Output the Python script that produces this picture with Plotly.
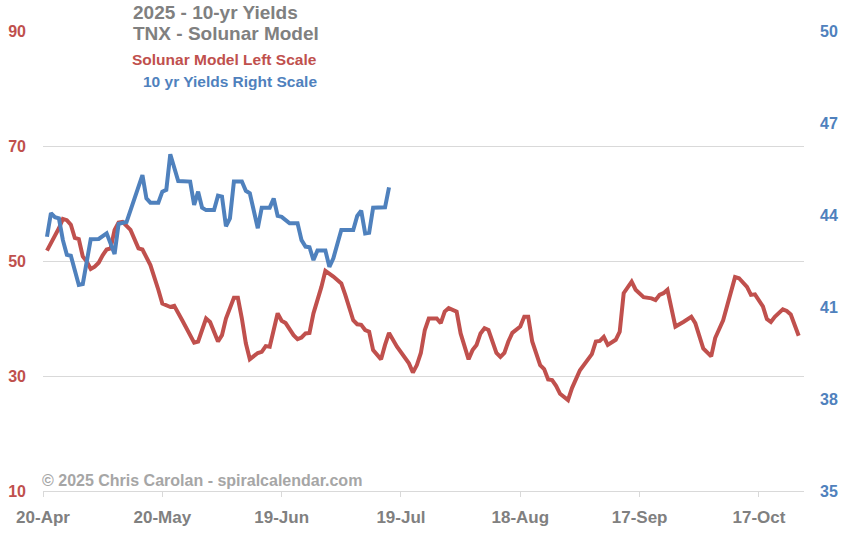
import datetime as dt
import plotly.graph_objects as go

START = dt.date(2025, 4, 20)

# Solunar model (left scale): day offset from 20-Apr, value
red_days = [1, 2, 3, 4, 5, 6, 7, 8, 9, 10, 11, 12, 13, 14, 15, 16, 17, 18, 19, 20,
            22, 24, 25, 27, 29, 30, 32, 33, 35, 38, 39, 41, 42, 44, 45, 46, 48, 49, 50, 51,
            52, 54, 55, 56, 57, 58, 59, 60, 61, 63, 64, 65, 66, 67, 68, 70, 71, 73, 75, 76,
            78, 79, 80, 81, 82, 83, 85, 86, 87, 89, 91, 92, 93, 94, 95, 96, 97, 99, 100, 101,
            102, 104, 105, 107, 108, 109, 110, 111, 112, 114, 115, 116, 117, 118, 120, 121, 122, 123, 125, 126,
            127, 128, 129, 130, 132, 133, 135, 137, 138, 139, 140, 141, 142, 144, 145, 146, 148, 149, 151, 153,
            154, 155, 156, 157, 158, 159, 161, 163, 164, 166, 168, 169, 171, 173, 174, 175, 177, 178, 179, 181,
            182, 183, 184, 186, 187, 188, 189, 190]
red_vals = [51.8, 53.1, 54.1, 55.7, 57.3, 57.1, 56.3, 54.0, 53.8, 50.8, 49.9, 48.6, 49.0, 49.7, 51.0, 52.0, 52.2, 55.4, 56.7, 56.8,
            55.4, 52.2, 52.0, 49.3, 45.0, 42.6, 42.0, 42.2, 39.7, 35.8, 36.0, 40.0, 39.4, 36.0, 37.1, 40.0, 43.6, 43.6, 40.0, 35.7,
            32.9, 34.0, 34.2, 35.2, 35.1, 38.0, 40.9, 39.6, 39.2, 37.1, 36.4, 36.7, 37.4, 37.5, 40.9, 45.5, 48.3, 47.3, 46.1, 44.1,
            39.7, 39.0, 38.9, 38.0, 37.7, 34.5, 32.9, 35.4, 37.5, 35.1, 33.1, 32.2, 30.6, 31.9, 34.0, 38.0, 40.0, 40.0, 39.2, 41.2,
            41.8, 41.2, 37.4, 32.9, 34.5, 35.4, 37.4, 38.3, 38.0, 34.0, 33.3, 34.0, 36.0, 37.5, 38.6, 40.3, 40.3, 36.0, 31.9, 31.2,
            29.4, 29.3, 28.3, 26.9, 25.8, 27.9, 31.0, 32.9, 33.8, 36.0, 36.1, 36.8, 35.4, 36.3, 37.7, 44.4, 46.4, 45.0, 43.7, 43.5,
            43.2, 44.1, 44.4, 45.0, 42.1, 38.6, 39.4, 40.3, 39.2, 34.8, 33.4, 36.6, 39.7, 44.7, 47.2, 47.0, 45.5, 44.1, 44.2, 42.1,
            39.9, 39.4, 40.3, 41.6, 41.3, 40.7, 38.9, 37.0]

# 10-yr yields TNX (right scale)
blue_days = [1, 2, 3, 4, 5, 6, 7, 9, 10, 12, 14, 16, 18, 19, 21, 23, 25, 26, 27, 29,
             30, 31, 32, 34, 37, 38, 39, 40, 41, 43, 44, 45, 46, 47, 48, 50, 51, 52, 54, 55,
             57, 58, 59, 60, 62, 64, 65, 66, 67, 68, 69, 71, 72, 73, 75, 78, 79, 80, 81, 82,
             83, 86, 87]
blue_vals = [43.29, 44.06, 43.93, 43.89, 43.18, 42.70, 42.67, 41.72, 41.75, 43.21, 43.22, 43.40, 42.73, 43.71, 43.77, 44.56, 45.30, 44.54, 44.40, 44.40,
             44.76, 44.82, 45.98, 45.11, 45.09, 44.33, 44.76, 44.24, 44.16, 44.16, 44.63, 44.60, 43.63, 43.89, 45.09, 45.09, 44.79, 44.71, 43.57, 44.24,
             44.24, 44.54, 43.97, 43.94, 43.73, 43.73, 43.18, 42.97, 42.95, 42.53, 42.84, 42.84, 42.31, 42.59, 43.51, 43.51, 43.97, 44.14, 43.40, 43.42,
             44.24, 44.25, 44.90]

left_ticks = [10, 30, 50, 70, 90]
right_ticks = [35, 38, 41, 44, 47, 50]

red_dates = [START + dt.timedelta(days=d) for d in red_days]
blue_dates = [START + dt.timedelta(days=d) for d in blue_days]

RED = "#C0504D"
BLUE = "#4F81BD"
GRAY = "#808080"
FONT = "Liberation Sans, Arial, sans-serif"

fig = go.Figure()
fig.add_trace(go.Scatter(x=red_dates, y=red_vals, mode="lines",
                         line=dict(color=RED, width=4), yaxis="y", name="Solunar"))
fig.add_trace(go.Scatter(x=blue_dates, y=blue_vals, mode="lines",
                         line=dict(color=BLUE, width=4), yaxis="y2", name="TNX"))

fig.update_layout(
    width=865, height=541,
    margin=dict(l=43, r=61, t=31, b=50),
    paper_bgcolor="white", plot_bgcolor="white",
    showlegend=False,
    font=dict(family=FONT),
    xaxis=dict(
        type="date", automargin=False,
        range=[dt.datetime(2025, 4, 20), dt.datetime(2025, 10, 28, 8)],
        tick0="2025-04-20", dtick=30 * 86400000, tickformat="%-d-%b",
        showgrid=False, showline=True, linecolor="#D9D9D9", linewidth=1,
        ticks="outside", ticklen=5, tickcolor="#D9D9D9",
        tickfont=dict(family=FONT, size=17, color=GRAY, weight="bold"),
        ticklabelstandoff=6, zeroline=False,
    ),
    yaxis=dict(
        range=[10, 90], tickvals=left_ticks, automargin=False,
        showgrid=True, gridcolor="#D9D9D9", gridwidth=1,
        showline=False, zeroline=False, ticks="",
        tickfont=dict(family=FONT, size=16, color=RED, weight="bold"),
        ticklabelstandoff=16,
    ),
    yaxis2=dict(
        range=[35, 50], tickvals=right_ticks, overlaying="y", side="right",
        automargin=False,
        showgrid=False, showline=False, zeroline=False, ticks="",
        tickfont=dict(family=FONT, size=16, color=BLUE, weight="bold"),
        ticklabelstandoff=15,
    ),
)

ann = [
    dict(text="2025 - 10-yr Yields", x=0.1157, y=1.0413, xanchor="left",
         font=dict(size=19, color=GRAY, weight="bold")),
    dict(text="TNX - Solunar Model", x=0.1157, y=0.9935, xanchor="left",
         font=dict(size=19, color=GRAY, weight="bold")),
    dict(text="Solunar Model Left Scale", x=0.3627, y=0.9391, xanchor="right",
         font=dict(size=15.5, color=RED, weight="bold")),
    dict(text="10 yr Yields Right Scale", x=0.3627, y=0.8913, xanchor="right",
         font=dict(size=15.5, color=BLUE, weight="bold")),
    dict(text="© 2025 Chris Carolan - spiralcalendar.com", x=-0.004, y=0.0239, xanchor="left",
         font=dict(size=16, color="#A6A6A6", weight="bold")),
]
for a in ann:
    a.update(xref="paper", yref="paper", yanchor="middle", showarrow=False)
    a["font"]["family"] = FONT
fig.update_layout(annotations=ann)

fig.write_html("out.html", config={"displayModeBar": False},
               post_script="document.body.style.margin='0';")
